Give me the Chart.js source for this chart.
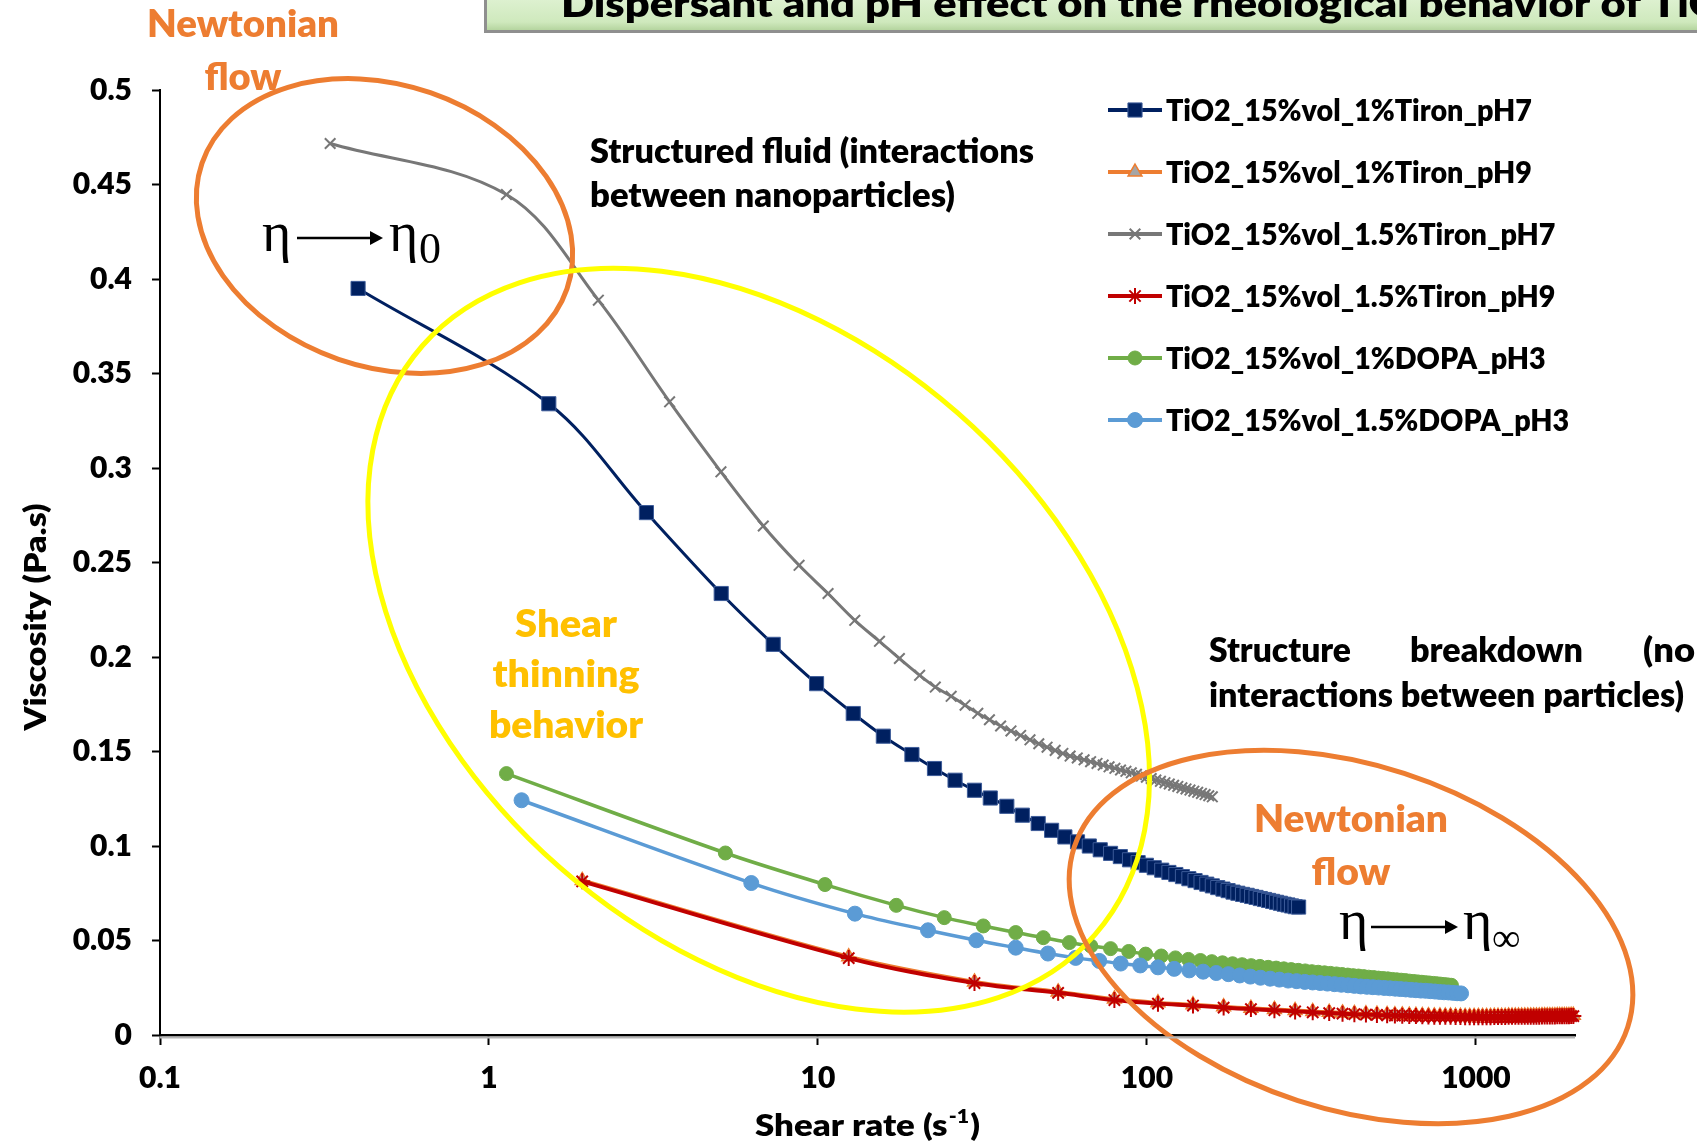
<!DOCTYPE html>
<html>
<head>
<meta charset="utf-8">
<title>Viscosity vs shear rate</title>
<script src="https://cdn.jsdelivr.net/npm/chart.js@4.4.1/dist/chart.umd.min.js"></script>
<style>
  html, body { margin: 0; padding: 0; background: #fff; overflow: hidden; }
  #wrap { position: relative; width: 1697px; height: 1145px; }
  canvas { display: block; }
</style>
</head>
<body>
<div id="wrap"><canvas id="rheo" width="1697" height="1145" style="width:1697px;height:1145px"></canvas></div>
<script>
// === DATA ===
const labels = [
  'TiO2_15%vol_1%Tiron_pH7',
  'TiO2_15%vol_1%Tiron_pH9',
  'TiO2_15%vol_1.5%Tiron_pH7',
  'TiO2_15%vol_1.5%Tiron_pH9',
  'TiO2_15%vol_1%DOPA_pH3',
  'TiO2_15%vol_1.5%DOPA_pH3'
];

// shear rate, s-1
const tiron1pH7Rate = [0.4, 1.52, 3.01, 5.08, 7.31, 9.9, 12.8, 15.8, 19.3, 22.6, 26.1, 29.9, 33.4, 37.5, 41.8, 46.7, 51.3, 56.3, 61.5, 66.8,
  72.1, 77.5, 83, 88.5, 94, 99.6, 105.2, 110.9, 116.6, 122.4, 128.2, 134.1, 140, 146, 152, 158, 164.1, 170.2, 176.4, 182.6,
  188.9, 195.2, 201.6, 208, 214.5, 221, 227.6, 234.2, 240.9, 247.6, 254.4, 261.2, 268.1, 275, 282, 289];
const tiron15pH7Rate = [0.329, 1.13, 2.15, 3.54, 5.07, 6.82, 8.76, 10.73, 12.94, 15.38, 17.68, 20.37, 22.73, 25.4, 28.0, 30.6, 33.2, 35.9,
  38.6, 41.3, 44.1, 46.9, 49.7, 52.6, 55.5, 58.4, 61.4, 64.4, 67.4, 70.5, 73.6, 76.7, 79.9, 83.1, 86.3, 89.6, 92.9, 96.2, 99.6,
  103, 106.4, 109.9, 113.4, 116.9, 120.5, 124.1, 127.7, 131.4, 135.1, 138.8, 142.6, 146.4, 150.2, 154.1, 158];
// both pH9 samples share the same ramp
const pH9Rate = [1.92, 12.4, 29.9, 53.7, 79.6, 108, 138, 171, 207, 244, 282, 319, 358, 393, 427, 463, 500, 537,
  567, 597, 627, 657, 687, 717, 747, 777, 807, 837, 867, 897, 927, 957, 987, 1017, 1047, 1077, 1107, 1137,
  1167, 1197, 1227, 1257, 1287, 1317, 1347, 1377, 1407, 1437, 1467, 1497, 1527, 1557, 1587, 1617, 1647, 1677,
  1707, 1737, 1767, 1797, 1827, 1857, 1887, 1917, 1947, 1977];
const dopa1Rate = [1.13, 5.23, 10.5, 17.3, 24.2, 31.8, 39.9, 48.4, 58.1, 67.5, 77.5, 88, 99.1, 110.5, 122, 133.6, 145.4, 157.4,
  169.6, 182, 194.6, 207.4, 220.4, 233.6, 247, 260.6, 274.4, 288.4, 302.6, 317, 331.6, 346.4, 361.4, 376.6, 392, 407.6,
  423.4, 439.4, 455.6, 472, 488.6, 505.4, 522.4, 539.6, 557, 574.6, 592.4, 610.4, 628.6, 647, 665.6, 684.4, 703.4,
  722.6, 742, 761.6, 781.4, 801.4, 821.6, 842];
const dopa15Rate = [1.256, 6.27, 12.95, 21.6, 30.3, 39.9, 50, 60.7, 71.6, 83.2, 95.4, 108, 121, 134.4, 148.2, 162.4, 176.8,
  191.4, 206.2, 221.4, 236.8, 252.6, 268.6, 285, 301.8, 318.8, 336, 353.6, 371.6, 389.8, 408.4, 427.2, 446.4, 466,
  485.8, 506, 526.6, 547.4, 568.6, 590, 612, 634.2, 656.8, 679.6, 703, 726.6, 750.6, 775, 799.8, 825, 850.6, 876.4, 901];

// viscosity, Pa.s
const tiron1pH7Visc = [0.395, 0.334, 0.2764, 0.2336, 0.2067, 0.1859, 0.1701, 0.1581, 0.1484, 0.141, 0.1348, 0.1295, 0.1254,
  0.121, 0.1163, 0.1119, 0.1083, 0.1048, 0.1022, 0.1000, 0.0980, 0.0961, 0.0944, 0.0927, 0.0912, 0.0898, 0.0885, 0.0872,
  0.0860, 0.0849, 0.0838, 0.0827, 0.0817, 0.0807, 0.0798, 0.0789, 0.0780, 0.0772, 0.0764, 0.0756, 0.0750, 0.0744, 0.0739,
  0.0733, 0.0728, 0.0722, 0.0717, 0.0712, 0.0707, 0.0702, 0.0697, 0.0692, 0.0688, 0.0683, 0.0679, 0.0677];
const tiron1pH9Visc = [0.0818, 0.0414, 0.0281, 0.0228, 0.0190, 0.0170, 0.0160, 0.0149, 0.0141, 0.0135, 0.0129, 0.0124,
  0.0120, 0.0117, 0.0114, 0.0112, 0.0110, 0.0108,
  0.0107, 0.0106, 0.0105, 0.0104, 0.0103, 0.0102, 0.0101, 0.0101, 0.0100, 0.0100, 0.0099, 0.0099, 0.0098, 0.0098,
  0.0098, 0.0098, 0.0098, 0.0098, 0.0098, 0.0099, 0.0099, 0.0099, 0.0099, 0.0100, 0.0100, 0.0100, 0.0100, 0.0100,
  0.0101, 0.0101, 0.0101, 0.0101, 0.0101, 0.0101, 0.0102, 0.0102, 0.0102, 0.0102, 0.0102, 0.0102, 0.0103, 0.0103,
  0.0103, 0.0103, 0.0103, 0.0103, 0.0104, 0.0104];
const tiron15pH7Visc = [0.4717, 0.4447, 0.3888, 0.335, 0.298, 0.2693, 0.2485, 0.2336, 0.2194, 0.2083, 0.1992, 0.1903,
  0.1841, 0.1792, 0.1745, 0.1702, 0.1668, 0.1635, 0.1609, 0.1585, 0.1562, 0.1541, 0.1523, 0.1506, 0.1490, 0.1476,
  0.1466, 0.1456, 0.1446, 0.1437, 0.1428, 0.1419, 0.1411, 0.1402, 0.1395, 0.1387, 0.1379, 0.1371, 0.1364, 0.1357,
  0.1349, 0.1342, 0.1335, 0.1328, 0.1321, 0.1315, 0.1308, 0.1302, 0.1296, 0.1290, 0.1284, 0.1278, 0.1272, 0.1266, 0.1260];
const tiron15pH9Visc = [0.0813, 0.0407, 0.0275, 0.0223, 0.0185, 0.0166, 0.0156, 0.0145, 0.0137, 0.0131, 0.0125, 0.0120,
  0.0116, 0.0113, 0.0110, 0.0108, 0.0106, 0.0104,
  0.0103, 0.0102, 0.0101, 0.0100, 0.0099, 0.0098, 0.0097, 0.0097, 0.0096, 0.0096, 0.0095, 0.0095, 0.0094, 0.0094,
  0.0094, 0.0094, 0.0094, 0.0094, 0.0094, 0.0095, 0.0095, 0.0095, 0.0095, 0.0096, 0.0096, 0.0096, 0.0096, 0.0096,
  0.0097, 0.0097, 0.0097, 0.0097, 0.0097, 0.0097, 0.0098, 0.0098, 0.0098, 0.0098, 0.0098, 0.0098, 0.0099, 0.0099,
  0.0099, 0.0099, 0.0099, 0.0099, 0.0100, 0.0100];
const dopa1Visc = [0.1383, 0.0963, 0.0796, 0.0686, 0.0621, 0.0577, 0.0542, 0.0515, 0.0489, 0.0471, 0.0457, 0.0442, 0.0428,
  0.0418, 0.0408, 0.0400, 0.0394, 0.0388, 0.0382, 0.0377, 0.0372, 0.0367, 0.0363, 0.0358, 0.0354, 0.0350, 0.0346,
  0.0342, 0.0339, 0.0335, 0.0332, 0.0329, 0.0326, 0.0323, 0.0320, 0.0317, 0.0314, 0.0312, 0.0309, 0.0306, 0.0304,
  0.0301, 0.0299, 0.0297, 0.0294, 0.0292, 0.0290, 0.0288, 0.0285, 0.0283, 0.0281, 0.0279, 0.0277, 0.0275, 0.0273,
  0.0271, 0.0269, 0.0267, 0.0265, 0.0263];
const dopa15Visc = [0.1242, 0.0804, 0.0642, 0.0554, 0.0501, 0.0462, 0.0431, 0.0408, 0.0392, 0.0378, 0.0368, 0.0358, 0.0350,
  0.0342, 0.0335, 0.0328, 0.0322, 0.0315, 0.0309, 0.0303, 0.0298, 0.0293, 0.0288, 0.0285, 0.0281, 0.0278, 0.0275,
  0.0272, 0.0269, 0.0266, 0.0263, 0.0260, 0.0257, 0.0255, 0.0253, 0.0251, 0.0249, 0.0247, 0.0245, 0.0243, 0.0241,
  0.0239, 0.0237, 0.0235, 0.0234, 0.0232, 0.0230, 0.0228, 0.0226, 0.0225, 0.0223, 0.0221, 0.0220];

const rates = [tiron1pH7Rate, pH9Rate, tiron15pH7Rate, pH9Rate, dopa1Rate, dopa15Rate];
const viscs = [tiron1pH7Visc, tiron1pH9Visc, tiron15pH7Visc, tiron15pH9Visc, dopa1Visc, dopa15Visc];

const xTicks = [0.1, 1, 10, 100, 1000];
const xTickLabels = ['0.1', '1', '10', '100', '1000'];
const yTickLabels = ['0', '0.05', '0.1', '0.15', '0.2', '0.25', '0.3', '0.35', '0.4', '0.45', '0.5'];

// === STYLE ===
const FONT = 'Lato, "Open Sans", sans-serif';
const W = '800';   // heavy weight, falls back to bold
const SERIF = '"Liberation Serif", "DejaVu Serif", serif';
const ORANGE = '#ED7D31';
const GOLD = '#FFC000';
const YELLOW = '#FFFF00';

// line + marker look of each series (Excel palette)
const looks = [
  { color: '#002060', width: 3,   point: 'rect',     r: 10,  fill: '#002060', edge: '#3d5c99', edgeW: 1 },
  { color: ORANGE,    width: 4,   point: 'triangle', r: 8,   fill: '#A5A5A5', edge: ORANGE,    edgeW: 1.5 },
  { color: '#777777', width: 3,   point: 'crossRot', r: 7.5, fill: '#777777', edge: '#777777', edgeW: 2 },
  { color: '#C00000', width: 4,   point: 'star',     r: 8,   fill: '#C00000', edge: '#C00000', edgeW: 2 },
  { color: '#70AD47', width: 3.5, point: 'circle',   r: 7,   fill: '#70AD47', edge: '#70AD47', edgeW: 1 },
  { color: '#5B9BD5', width: 3.5, point: 'circle',   r: 7.5, fill: '#5B9BD5', edge: '#5B9BD5', edgeW: 1 }
];

// ellipses around the flow regimes (canvas px, rotation in degrees)
const rings = [
  { cx: 384.5, cy: 226,   rx: 193, ry: 141, rot: 19,   color: ORANGE },
  { cx: 758.7, cy: 640.2, rx: 447, ry: 302, rot: 41.2, color: YELLOW },
  { cx: 1351,  cy: 937,   rx: 291, ry: 172, rot: 18,   color: ORANGE }
];

// text notes: text, x, baseline, target width, align, colour, size
const notes = [
  ['Newtonian', 243, 37, 192, 'center', ORANGE, 38],
  ['flow', 243, 90, 77, 'center', ORANGE, 38],
  ['Newtonian', 1351, 832, 194, 'center', ORANGE, 38],
  ['flow', 1351, 885, 79, 'center', ORANGE, 38],
  ['Shear', 566, 637, 102, 'center', GOLD, 38],
  ['thinning', 566, 687, 147, 'center', GOLD, 38],
  ['behavior', 566, 738, 154, 'center', GOLD, 38],
  ['Structured fluid (interactions', 590, 163, 444, 'left', '#000', 33],
  ['between nanoparticles)', 590, 207, 365, 'left', '#000', 33],
  ['Structure', 1209, 662, 142, 'left', '#000', 33],
  ['breakdown', 1410, 662, 173, 'left', '#000', 33],
  ['(no', 1643, 662, 52, 'left', '#000', 33],
  ['interactions between particles)', 1209, 707, 475, 'left', '#000', 33]
];

// === UTILS ===
function fillFitted(ctx, text, x, y, width, align){
  const k = width / ctx.measureText(text).width;
  ctx.save();
  ctx.translate(x, y);
  ctx.scale(k, 1);
  ctx.textAlign = align;
  ctx.fillText(text, 0, 0);
  ctx.restore();
  return k;
}

function arrow(ctx, x1, x2, y){
  ctx.save();
  ctx.strokeStyle = '#000';
  ctx.fillStyle = '#000';
  ctx.lineWidth = 2.5;
  ctx.beginPath(); ctx.moveTo(x1, y); ctx.lineTo(x2 - 10, y); ctx.stroke();
  ctx.beginPath(); ctx.moveTo(x2 - 13, y - 7); ctx.lineTo(x2, y); ctx.lineTo(x2 - 13, y + 7); ctx.closePath(); ctx.fill();
  ctx.restore();
}

// === overlay: title band, notes, rings, legend, axis titles ===
const overlay = {
  id: 'overlay',
  afterDatasetsDraw(chart){
    const ctx = chart.ctx;
    ctx.save();
    ctx.lineWidth = 5;
    rings.forEach(r => {
      ctx.strokeStyle = r.color;
      ctx.beginPath();
      ctx.ellipse(r.cx, r.cy, r.rx, r.ry, r.rot * Math.PI / 180, 0, Math.PI * 2);
      ctx.stroke();
    });
    ctx.restore();
  },
  afterDraw(chart){
    const ctx = chart.ctx;
    const area = chart.chartArea;
    ctx.save();

    // grey shadow under the x axis line
    ctx.strokeStyle = '#b5b5b5';
    ctx.lineWidth = 2;
    ctx.beginPath(); ctx.moveTo(area.left, area.bottom + 2.5); ctx.lineTo(area.right, area.bottom + 2.5); ctx.stroke();

    // title band, cut by the top edge
    ctx.fillStyle = '#8f8f8f';
    ctx.fillRect(484, -10, 1300, 43);
    const g = ctx.createLinearGradient(0, -10, 0, 30);
    g.addColorStop(0, '#e3f4d8');
    g.addColorStop(0.8, '#cfe9bd');
    g.addColorStop(1, '#b5d59f');
    ctx.fillStyle = g;
    ctx.fillRect(487, -10, 1300, 40);
    ctx.fillStyle = '#000';
    ctx.font = W + ' 38px ' + FONT;
    ctx.textBaseline = 'alphabetic';
    const head = 'Dispersant and pH effect on the rheological behavior of';
    const kHead = 1080 / ctx.measureText(head).width;
    ctx.save();
    ctx.translate(561, 17);
    ctx.scale(kHead, 1);
    ctx.textAlign = 'left';
    ctx.fillText(head + ' TiO2 nanofluids', 0, 0);
    ctx.restore();

    // notes
    notes.forEach(([t, x, y, w, align, color, size]) => {
      ctx.font = W + ' ' + size + 'px ' + FONT;
      ctx.fillStyle = color;
      fillFitted(ctx, t, x, y, w, align);
    });

    // eta -> eta0 and eta -> eta_inf
    ctx.fillStyle = '#000';
    ctx.textAlign = 'left';
    ctx.font = '56px ' + SERIF;
    ctx.fillText('η', 262, 251);
    ctx.fillText('η', 389, 251);
    ctx.fillText('η', 1339, 939);
    ctx.fillText('η', 1463, 939);
    ctx.font = '44px ' + SERIF;
    ctx.fillText('0', 419, 263);
    ctx.font = '40px ' + SERIF;
    ctx.fillText('∞', 1492, 951);
    arrow(ctx, 297, 383, 238);
    arrow(ctx, 1371, 1458, 927);

    // legend
    ctx.font = W + ' 30px ' + FONT;
    const kLeg = 366 / ctx.measureText(labels[0]).width;
    chart.data.datasets.forEach((ds, i) => {
      const y = 110 + i * 62;
      ctx.strokeStyle = ds.borderColor;
      ctx.lineWidth = 4;
      ctx.beginPath(); ctx.moveTo(1108, y); ctx.lineTo(1162, y); ctx.stroke();
      ctx.fillStyle = ds.pointBackgroundColor;
      ctx.strokeStyle = ds.pointBorderColor;
      ctx.lineWidth = ds.pointBorderWidth;
      Chart.helpers.drawPoint(ctx, {
        pointStyle: ds.pointStyle, radius: ds.pointRadius, rotation: 0, borderWidth: ds.pointBorderWidth
      }, 1135, y);
      ctx.fillStyle = '#000';
      ctx.save();
      ctx.translate(1166, y + 11);
      ctx.scale(kLeg, 1);
      ctx.textAlign = 'left';
      ctx.fillText(ds.label, 0, 0);
      ctx.restore();
    });

    // axis titles
    ctx.fillStyle = '#000';
    ctx.font = W + ' 30px ' + FONT;
    ctx.save();
    ctx.translate(36, 617);
    ctx.rotate(-Math.PI / 2);
    ctx.textBaseline = 'middle';
    fillFitted(ctx, 'Viscosity (Pa.s)', 0, 0, 227, 'center');
    ctx.restore();

    const main = 'Shear rate (s', sup = '-1', close = ')';
    const big = W + ' 31px ' + FONT, small = W + ' 19px ' + FONT;
    ctx.font = big;
    const w1 = ctx.measureText(main).width, w3 = ctx.measureText(close).width;
    ctx.font = small;
    const w2 = ctx.measureText(sup).width + 2;
    const kx = 225 / (w1 + w2 + w3);
    ctx.save();
    ctx.translate(755, 1136);
    ctx.scale(kx, 1);
    ctx.textAlign = 'left';
    ctx.textBaseline = 'alphabetic';
    ctx.font = big;   ctx.fillText(main, 0, 0);
    ctx.font = small; ctx.fillText(sup, w1 + 1, -13);
    ctx.font = big;   ctx.fillText(close, w1 + w2, 0);
    ctx.restore();

    ctx.restore();
  }
};

// === RENDER ===
const datasets = labels.map((label, i) => {
  const s = looks[i];
  return {
    label,
    data: rates[i].map((x, j) => ({ x, y: viscs[i][j] })),
    borderColor: s.color,
    borderWidth: s.width,
    pointStyle: s.point,
    pointRadius: s.r,
    pointBackgroundColor: s.fill,
    pointBorderColor: s.edge,
    pointBorderWidth: s.edgeW,
    tension: 0.35,
    fill: false,
    clip: false,
    order: labels.length - i   // later series on top, like the spreadsheet
  };
});

const tickFont = { family: FONT, size: 30, weight: W };

new Chart(document.getElementById('rheo').getContext('2d'), {
  type: 'line',
  data: { datasets },
  options: {
    responsive: false,
    animation: false,
    devicePixelRatio: 1,
    events: [],
    layout: { padding: { left: 0, right: 122, top: 90, bottom: 0 } },
    plugins: { legend: { display: false }, tooltip: { enabled: false }, title: { display: false } },
    scales: {
      x: {
        type: 'logarithmic',
        min: 0.1,
        max: 2000,
        afterBuildTicks: (scale) => { scale.ticks = xTicks.map(v => ({ value: v })); },
        afterFit: (scale) => { scale.height = 110; },
        ticks: {
          autoSkip: false, maxRotation: 0, padding: 15, color: '#000', font: tickFont,
          callback: (v, i) => xTickLabels[i]
        },
        grid: { drawOnChartArea: false, drawTicks: true, tickLength: 10, tickWidth: 2, tickColor: '#000', color: '#000' },
        border: { display: true, color: '#000', width: 2.5 }
      },
      y: {
        type: 'linear',
        min: 0,
        max: 0.5,
        afterFit: (scale) => { scale.width = 160; },
        ticks: {
          stepSize: 0.05, padding: 20, color: '#000', font: tickFont,
          callback: (v, i) => yTickLabels[i]
        },
        grid: { drawOnChartArea: false, drawTicks: true, tickLength: 8, tickWidth: 2, tickColor: '#000', color: '#000' },
        border: { display: true, color: '#000', width: 2 }
      }
    }
  },
  plugins: [overlay]
});
</script>
</body>
</html>
